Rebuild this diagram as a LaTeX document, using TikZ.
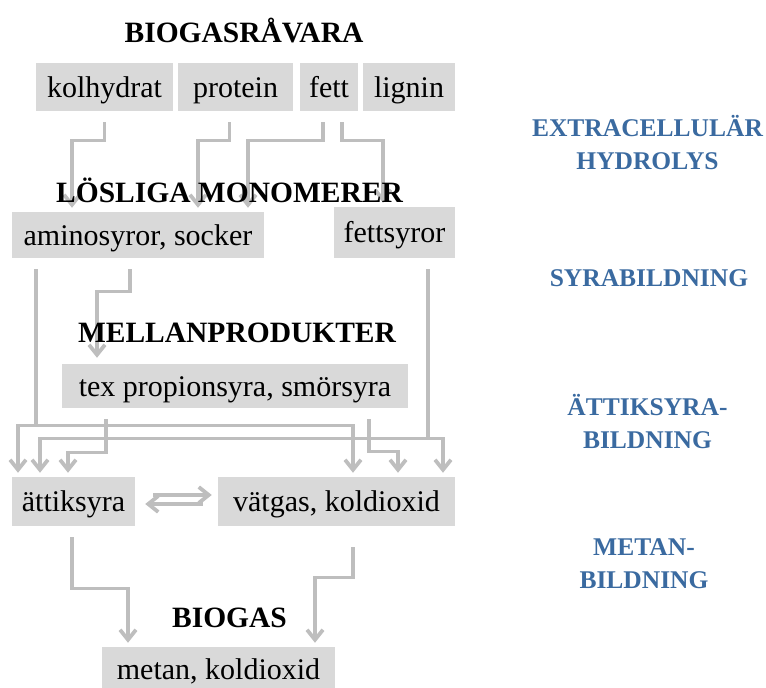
\documentclass[tikz,border=0pt]{standalone}
\usepackage{fontspec}
\setmainfont{Liberation Serif}
\usepackage{tikz}
\usetikzlibrary{arrows.meta,backgrounds,positioning}
\definecolor{boxgray}{RGB}{217,217,217}
\definecolor{arrowgray}{RGB}{190,190,190}
\definecolor{stageblue}{RGB}{58,106,160}

\begin{document}
\begin{tikzpicture}[x=1pt,y=-1pt,
	box/.style={fill=boxgray, inner sep=0pt, text height=24pt, text depth=4pt, font=\fontsize{30}{36}\selectfont},
	heading/.style={anchor=base, font=\bfseries\fontsize{29.5}{34}\selectfont},
	stage/.style={anchor=base, align=center, text=stageblue, font=\bfseries\fontsize{25.5}{33}\selectfont},
	flow/.style={draw=arrowgray, line width=3.4pt, -{Straight Barb[length=10pt,width=16pt,line width=3.8pt]}, shorten <=11pt, shorten >=4pt}]

		\useasboundingbox (0,0) rectangle (766,688);

		% raw material
		\node[heading] (raw) at (244,42) {BIOGASRÅVARA};
		\node[box, minimum width=137pt, minimum height=48pt] (kol) at (104.5,87) {kolhydrat};
		\node[box, minimum width=115pt, minimum height=48pt] (prot) at (235.5,87) {protein};
		\node[box, minimum width=58pt, minimum height=48pt] (fett) at (329,87) {fett};
		\node[box, minimum width=92pt, minimum height=48pt] (lign) at (409,87) {lignin};

		% monomers
		\node[heading] (mono) at (229.5,202) {LÖSLIGA MONOMERER};
		\node[box, minimum width=252pt, minimum height=46pt] (amino) at (138,235) {aminosyror, socker};
		\node[box, minimum width=121pt, minimum height=51pt] (fsyr) at (394.5,232.5) {fettsyror};

		% intermediates
		\node[heading] (mellan) at (237,342) {MELLANPRODUKTER};
		\node[box, minimum width=346pt, minimum height=44pt] (tex) at (235,386) {tex propionsyra, smörsyra};

		\node[box, minimum width=123pt, minimum height=49pt] (atti) at (73.5,501.5) {ättiksyra};
		\node[box, minimum width=237pt, minimum height=49pt] (vat) at (336.5,501.5) {vätgas, koldioxid};

		% biogas
		\node[heading] (bio) at (229.5,627) {BIOGAS};
		\node[box, minimum width=233pt, minimum height=45pt] (metan) at (218.5,669.5) {metan, koldioxid};

		% stages (base = last line)
		\node[stage] (hydr) at (647.5,169) {EXTRACELLULÄR\\HYDROLYS};
		\node[stage] (syra) at (649,286) {SYRABILDNING};
		\node[stage] (atik) at (647.5,448) {ÄTTIKSYRA-\\BILDNING};
		\node[stage] (metb) at (644,588) {METAN-\\BILDNING};

		\begin{scope}[on background layer]
			\draw[flow] (kol.south) -- ++(0,29) -| ([xshift=-66pt]amino.north);
			\draw[flow] ([xshift=-6pt]prot.south) -- ++(0,29) -| ([xshift=60pt]amino.north);
			\draw[flow] ([xshift=-6pt]fett.south) -- ++(0,29) -| ([xshift=110pt]amino.north);
			\draw[flow] ([xshift=13pt]fett.south) -- ++(0,29) -| ([xshift=-11.5pt]fsyr.north);

			\draw[flow] ([xshift=-102pt]amino.south) -- ++(0,167) -| ([xshift=-55.5pt]atti.north);
			\draw[flow] ([xshift=-102pt]amino.south) -- ++(0,167) -| ([xshift=16.5pt]vat.north);
			\draw[flow, shorten >=6pt] ([xshift=-8pt]amino.south) -- ++(0,33) -| ([xshift=-138pt]tex.north);
			\draw[flow] ([xshift=33.5pt]fsyr.south) -- ++(0,180) -| ([xshift=-33.5pt]atti.north);
			\draw[flow] ([xshift=33.5pt]fsyr.south) -- ++(0,180) -| ([xshift=106.5pt]vat.north);
			\draw[flow] ([xshift=-129pt]tex.south) -- ++(0,44) -| ([xshift=-5.5pt]atti.north);
			\draw[flow] ([xshift=134pt]tex.south) -- ++(0,43) -| ([xshift=61.5pt]vat.north);

			\draw[flow, shorten <=18pt, shorten >=6pt] ([yshift=6.5pt]atti.east) -- ([yshift=6.5pt]vat.west);
			\draw[flow, shorten <=15pt, shorten >=10pt] ([yshift=-2.5pt]vat.west) -- ([yshift=-2.5pt]atti.east);

			\draw[flow] ([xshift=-1.5pt]atti.south) -- ++(0,62) -| ([xshift=-90.5pt]metan.north);
			\draw[flow, shorten <=21pt] ([xshift=16.5pt]vat.south) -- ++(0,51) -| ([xshift=96.5pt]metan.north);
		\end{scope}
	\end{tikzpicture}
\end{document}
